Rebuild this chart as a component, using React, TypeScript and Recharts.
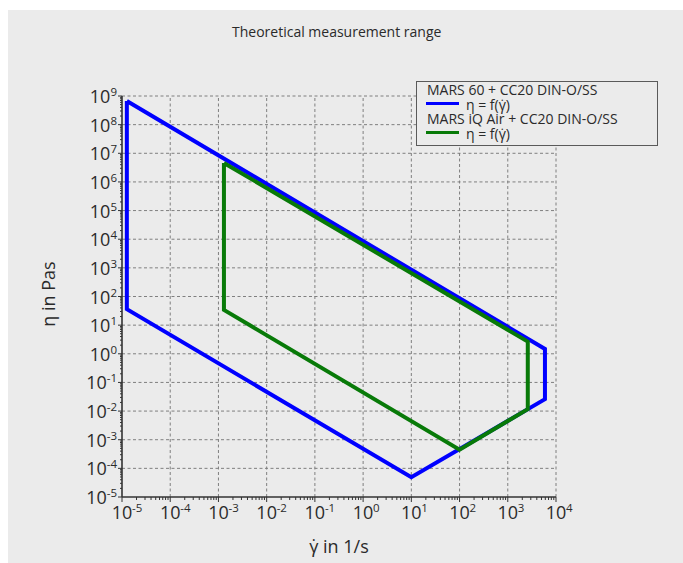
import { Legend, Line, LineChart, ReferenceLine, XAxis, YAxis } from "recharts";

const blueShear = [1.26e-5, 1.26e-5, 10, 5.9e3, 5.9e3, 1.26e-5];
const blueVisc = [6.7e8, 36, 4.9e-5, 0.026, 1.48, 6.7e8];
const greenShear = [1.3e-3, 1.3e-3, 100, 2.6e3, 2.6e3, 1.3e-3];
const greenVisc = [4.6e6, 34, 4.5e-4, 0.0117, 2.66, 4.6e6];

const xDecades = [-5, -4, -3, -2, -1, 0, 1, 2, 3, 4];
const yDecades = [-5, -4, -3, -2, -1, 0, 1, 2, 3, 4, 5, 6, 7, 8, 9];

const FONT = '"Open Sans", "Noto Sans", sans-serif';
const INK = "#2a2a2a";
const AXIS = "#333333";
const GRID = "#7f7f7f";

function logTicks(decades: number[]): number[] {
  const out: number[] = [];
  for (let i = 0; i < decades.length - 1; i++) {
    for (let k = 1; k <= 9; k++) out.push(Number((k * 10 ** decades[i]).toPrecision(3)));
  }
  out.push(10 ** decades[decades.length - 1]);
  return out;
}

function exponentOf(v: number): number | null {
  const e = Math.log10(v);
  return Math.abs(e - Math.round(e)) < 1e-6 ? Math.round(e) : null;
}

const blueData = blueShear.map((s, i) => ({ shear: s, visc: blueVisc[i] }));
const greenData = greenShear.map((s, i) => ({ shear: s, visc: greenVisc[i] }));

function XTick({ x, y, payload }: any) {
  const e = exponentOf(payload.value);
  return (
    <g>
      <line x1={x} x2={x} y1={y} y2={y + (e !== null ? 5 : 3)} stroke={AXIS} strokeWidth={1} />
      {e !== null && (
        <>
          <text x={x} y={y + 21.5} textAnchor="middle" fontSize={18} fill={INK} fontFamily={FONT}>
            10
          </text>
          <text x={x + 10} y={y + 14.5} textAnchor="start" fontSize={11.5} fill={INK} fontFamily={FONT}>
            {e}
          </text>
        </>
      )}
    </g>
  );
}

function YTick({ x, y, payload }: any) {
  const e = exponentOf(payload.value);
  return (
    <g>
      <line x1={x} x2={x - (e !== null ? 4 : 2)} y1={y} y2={y} stroke={AXIS} strokeWidth={1} />
      {e !== null && (
        <text x={x - 5} y={y + 7} textAnchor="end" fill={INK} fontFamily={FONT}>
          <tspan fontSize={18}>10</tspan>
          <tspan fontSize={11.5} dy={-7}>
            {e}
          </tspan>
        </text>
      )}
    </g>
  );
}

function LegendBox({ payload }: any) {
  return (
    <div
      style={{
        width: 242,
        height: 65,
        boxSizing: "border-box",
        border: "1px solid #5a5a5a",
        background: "#ebebeb",
        padding: "1px 0 0 9px",
        fontFamily: FONT,
        fontSize: 14,
        lineHeight: "14.7px",
        color: INK,
      }}
    >
      {(payload || []).map((p: any) => (
        <div key={p.value}>
          <div style={{ paddingLeft: 1 }}>{p.value}</div>
          <div style={{ display: "flex", alignItems: "center", height: 14.7 }}>
            <span style={{ display: "inline-block", width: 33, height: 3, background: p.color, marginTop: -4 }} />
            <span style={{ marginLeft: 7 }}>η = f(γ̇)</span>
          </div>
        </div>
      ))}
    </div>
  );
}

export default function App() {
  return (
    <div
      style={{
        position: "absolute",
        left: 8,
        top: 10,
        width: 675,
        height: 553,
        background: "#ebebeb",
        fontFamily: FONT,
      }}
    >
      <div
        style={{
          position: "absolute",
          top: 14.6,
          left: 224,
          width: 200,
          textAlign: "center",
          fontSize: 14,
          lineHeight: "14px",
          color: INK,
          whiteSpace: "nowrap",
        }}
      >
        Theoretical measurement range
      </div>
      <LineChart width={675} height={553} margin={{ top: 86, right: 127, left: 0, bottom: 0 }}>
        <XAxis
          type="number"
          dataKey="shear"
          scale="log"
          domain={[1e-5, 1e4]}
          allowDataOverflow
          ticks={logTicks(xDecades)}
          interval={0}
          height={66}
          tickSize={0}
          tickMargin={0}
          tickLine={false}
          axisLine={{ stroke: AXIS, strokeWidth: 1.6 }}
          tick={(p: any) => <XTick {...p} />}
          label={() => (
            <text x={331} y={543} textAnchor="middle" fontSize={18} fill={INK} fontFamily={FONT}>
              γ̇ in 1/s
            </text>
          )}
        />
        <YAxis
          type="number"
          dataKey="visc"
          scale="log"
          domain={[1e-5, 1e9]}
          allowDataOverflow
          ticks={logTicks(yDecades)}
          interval={0}
          width={114}
          tickSize={0}
          tickMargin={0}
          tickLine={false}
          axisLine={{ stroke: AXIS, strokeWidth: 1.6 }}
          tick={(p: any) => <YTick {...p} />}
          label={() => (
            <text
              x={47}
              y={284}
              transform="rotate(-90 47 284)"
              textAnchor="middle"
              fontSize={18}
              fill={INK}
              fontFamily={FONT}
            >
              η in Pas
            </text>
          )}
        />
        {xDecades.slice(1).map((d) => (
          <ReferenceLine key={`gx${d}`} x={10 ** d} stroke={GRID} strokeWidth={1} strokeDasharray="3 2.5" />
        ))}
        {yDecades.slice(1).map((d) => (
          <ReferenceLine key={`gy${d}`} y={10 ** d} stroke={GRID} strokeWidth={1} strokeDasharray="3 2.5" />
        ))}
        <Legend
          layout="vertical"
          align="center"
          verticalAlign="middle"
          wrapperStyle={{ left: 408, top: 71, width: 242, height: 65 }}
          content={(p: any) => <LegendBox {...p} />}
        />
        <Line
          name="MARS 60 + CC20 DIN-O/SS"
          data={blueData}
          dataKey="visc"
          type="linear"
          stroke="#0000ff"
          strokeWidth={4}
          dot={false}
          activeDot={false}
          isAnimationActive={false}
        />
        <Line
          name="MARS iQ Air + CC20 DIN-O/SS"
          data={greenData}
          dataKey="visc"
          type="linear"
          stroke="#087a08"
          strokeWidth={4}
          dot={false}
          activeDot={false}
          isAnimationActive={false}
        />
      </LineChart>
    </div>
  );
}
